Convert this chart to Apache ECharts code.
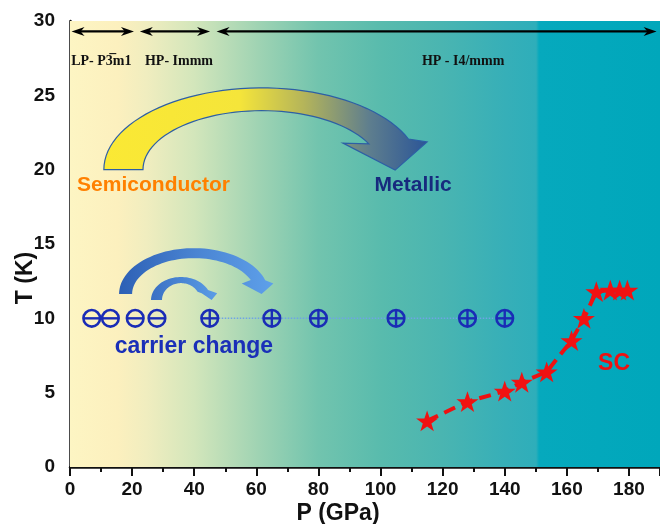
<!DOCTYPE html>
<html>
<head>
<meta charset="utf-8">
<script src="https://cdn.jsdelivr.net/npm/echarts@6/dist/echarts.min.js"></script>
<style>
  html, body { margin: 0; padding: 0; background: #fff; }
  #chart { width: 660px; height: 524px; }
</style>
</head>
<body>
<div id="chart"></div>
<script>
// Axis ticks: pressure (GPa) and temperature (K)
const pressureTicks = [0, 20, 40, 60, 80, 100, 120, 140, 160, 180];
const tempTicks = [0, 5, 10, 15, 20, 25, 30];
const pressureMax = 190;

// Hall carrier sign vs pressure, measured near 10 K (-1 = electrons, +1 = holes)
const carrierP = [7, 13, 21, 28, 45, 65, 80, 105, 128, 140];
const carrierT = [10, 10, 10, 10, 10, 10, 10, 10, 10, 10];
const carrierSign = [-1, -1, -1, -1, 1, 1, 1, 1, 1, 1];

// Superconducting transition temperature vs pressure
const scP = [115, 128, 140, 145.5, 153.5, 161.5, 165.5, 169.5, 174, 177, 179.5];
const scTc = [3.1, 4.4, 5.1, 5.7, 6.4, 8.5, 10.0, 11.8, 11.9, 11.9, 11.9];

// Structural phase ranges (GPa) and their names
const phaseRanges = [[0.5, 20.6], [22.5, 45.1], [47.2, 188.9]];
const phaseNames = ['LP- P3\u0305m1', 'HP- Immm', 'HP - I4/mmm'];
const phaseLabelP = [10.1, 35.1, 126.6];
const phaseArrowT = 29.3;
const phaseLabelT = 27.3;

// Curved "transition" arrows, described in data units (elliptical band + head)
const bandArrows = [
  { cx: 61.8, cy: 20, rxOut: 50.9, ryOut: 5.5, rxIn: 38.3, ryIn: 3.97, endOut: 22, endIn: 26,
    head: [[115, 21.86], [104.7, 19.97], [87.9, 21.79]],
    colors: [{ offset: 0, color: '#fbe934' }, { offset: 0.42, color: '#f5e53a' },
             { offset: 0.62, color: '#b4b45a' }, { offset: 0.82, color: '#5e7e8e' },
             { offset: 1, color: '#2b5597' }],
    stroke: '#2d5fa5' },
  { cx: 39.9, cy: 11.63, rxOut: 24.1, ryOut: 3.09, rxIn: 19.9, ryIn: 2.42, endOut: 17.7, endIn: 22.9,
    head: [[65.5, 12.35], [61.7, 11.63], [55.3, 12.35]],
    colors: [{ offset: 0, color: '#2d60b5' }, { offset: 0.5, color: '#4a84d2' }, { offset: 1, color: '#5ea0ea' }] },
  { cx: 35.75, cy: 11.23, rxOut: 9.66, ryOut: 1.55, rxIn: 6.12, ryIn: 1.14, endOut: 25.8, endIn: 29.3,
    head: [[47.4, 11.68], [45.6, 11.23], [42.4, 11.68]],
    colors: [{ offset: 0, color: '#3a70c4' }, { offset: 1, color: '#5b9de6' }] }
];

// Free-standing text annotations
const notes = [
  { text: 'Semiconductor', p: 26.9, t: 18.96, color: '#ff8000', size: 21 },
  { text: 'Metallic', p: 110.5, t: 18.96, color: '#172a7e', size: 21 },
  { text: 'carrier change', p: 39.9, t: 8.09, color: '#1a2fb8', size: 23 },
  { text: 'SC', p: 175.2, t: 6.97, color: '#ee1111', size: 23 }
];

const SANS = 'Arial, "Liberation Sans", Helvetica, sans-serif';
const SERIF = '"Times New Roman", "Liberation Serif", serif';
const STAR = 'path://M50,0 L61.8,35.1 L98.1,35.1 L68.8,56.8 L79.4,91.2 L50,70 L20.6,91.2 L31.2,56.8 L1.9,35.1 L38.2,35.1 Z';

function bandArrowShape(spec, api) {
  const pts = [];
  const N = 48;
  const toRad = Math.PI / 180;
  for (let i = 0; i <= N; i++) {
    const a = Math.PI - (Math.PI - spec.endOut * toRad) * i / N;
    pts.push(api.coord([spec.cx + spec.rxOut * Math.cos(a), spec.cy + spec.ryOut * Math.sin(a)]));
  }
  spec.head.forEach(h => pts.push(api.coord(h)));
  for (let i = N; i >= 0; i--) {
    const a = Math.PI - (Math.PI - spec.endIn * toRad) * i / N;
    pts.push(api.coord([spec.cx + spec.rxIn * Math.cos(a), spec.cy + spec.ryIn * Math.sin(a)]));
  }
  return {
    type: 'polygon',
    shape: { points: pts },
    style: {
      fill: { type: 'linear', x: 0, y: 0, x2: 1, y2: 0, colorStops: spec.colors },
      stroke: spec.stroke || null,
      lineWidth: spec.stroke ? 1.2 : 0
    }
  };
}

function doubleArrow(x1, x2, y) {
  const L = 13, H = 9;
  return {
    type: 'group',
    children: [
      { type: 'line', shape: { x1: x1 + 8, y1: y, x2: x2 - 8, y2: y }, style: { stroke: '#000', lineWidth: 2.2 } },
      { type: 'polygon', shape: { points: [[x1, y], [x1 + L, y - H / 2], [x1 + L * 0.7, y], [x1 + L, y + H / 2]] }, style: { fill: '#000' } },
      { type: 'polygon', shape: { points: [[x2, y], [x2 - L, y - H / 2], [x2 - L * 0.7, y], [x2 - L, y + H / 2]] }, style: { fill: '#000' } }
    ]
  };
}

const chart = echarts.init(document.getElementById('chart'), null, { renderer: 'canvas' });

const holeLine = carrierP.map((p, i) => [p, carrierT[i]]).filter((_, i) => carrierSign[i] > 0);

const option = {
  animation: false,
  backgroundColor: '#fff',
  grid: { left: 70, right: 0, top: 21, bottom: 57, containLabel: false, outerBoundsMode: 'none' },
  xAxis: [{
    type: 'value',
    min: pressureTicks[0],
    max: pressureMax,
    interval: pressureTicks[1] - pressureTicks[0],
    name: 'P (GPa)',
    nameLocation: 'middle',
    nameGap: 35,
    nameMoveOverlap: false,
    nameTextStyle: { fontFamily: SANS, fontWeight: 'bold', fontSize: 23, color: '#111', padding: [0, 54, 0, 0] },
    axisLine: { show: true, onZero: false, lineStyle: { color: '#111', width: 2.5 } },
    axisTick: { show: true, inside: false, length: 9, lineStyle: { color: '#111', width: 2 } },
    minorTick: { show: true, splitNumber: 2, length: 5, lineStyle: { color: '#111', width: 2 } },
    axisLabel: {
      margin: 13, fontFamily: SANS, fontWeight: 'bold', fontSize: 19, color: '#111',
      showMaxLabel: false,
      formatter: v => pressureTicks.includes(v) ? String(v) : ''
    },
    splitLine: { show: false }
  }, {
    type: 'value', position: 'top', min: 0, max: pressureMax,
    axisLine: { show: true, lineStyle: { color: '#111', width: 2 } },
    axisTick: { show: false }, axisLabel: { show: false }, splitLine: { show: false }
  }],
  yAxis: {
    type: 'value',
    min: tempTicks[0],
    max: tempTicks[tempTicks.length - 1],
    interval: tempTicks[1] - tempTicks[0],
    name: 'T (K)',
    nameLocation: 'middle',
    nameGap: 33,
    nameMoveOverlap: false,
    nameTextStyle: { fontFamily: SANS, fontWeight: 'bold', fontSize: 23, color: '#111', padding: [0, 68, 0, 0] },
    axisLine: { show: true, onZero: false, lineStyle: { color: '#111', width: 2.5 } },
    axisTick: { show: false },
    axisLabel: { margin: 15, fontFamily: SANS, fontWeight: 'bold', fontSize: 19, color: '#111' },
    splitLine: { show: false }
  },
  series: [
    {
      // background colour wash across the pressure range
      type: 'line', data: [], silent: true, z: 0,
      markArea: {
        silent: true,
        itemStyle: {
          color: {
            type: 'linear', x: 0, y: 0, x2: 1, y2: 0,
            colorStops: [
              { offset: 0, color: '#fdf5c3' },
              { offset: 0.08, color: '#fcf0be' },
              { offset: 0.13, color: '#f0edbf' },
              { offset: 0.21, color: '#d3e6bb' },
              { offset: 0.32, color: '#9fd3b3' },
              { offset: 0.42, color: '#72c4ae' },
              { offset: 0.53, color: '#58bbad' },
              { offset: 0.63, color: '#4ab5b1' },
              { offset: 0.74, color: '#36afb8' },
              { offset: 0.79, color: '#2eaeba' },
              { offset: 0.795, color: '#06a9bd' },
              { offset: 1, color: '#00a7bb' }
            ]
          }
        },
        data: [[{ xAxis: 0, yAxis: 0 }, { xAxis: pressureMax, yAxis: 30 }]]
      }
    },
    {
      // phase range arrows
      type: 'custom', z: 3, silent: true,
      data: phaseRanges.map(r => [r[0], phaseArrowT, r[1]]),
      renderItem: (params, api) => {
        const a = api.coord([api.value(0), api.value(1)]);
        const b = api.coord([api.value(2), api.value(1)]);
        return doubleArrow(a[0], b[0], a[1]);
      }
    },
    {
      // curved transition arrows
      type: 'custom', z: 3, silent: true,
      data: bandArrows.map(s => [s.cx, s.cy]),
      renderItem: (params, api) => bandArrowShape(bandArrows[params.dataIndex], api)
    },
    {
      // dotted guide through the hole-type points
      type: 'line', z: 4, silent: true, symbol: 'none',
      data: holeLine,
      lineStyle: { color: '#6fa3e6', width: 1.5, type: 'dotted' }
    },
    {
      // carrier sign markers
      type: 'custom', z: 5, silent: true,
      data: carrierP.map((p, i) => [p, carrierT[i], carrierSign[i]]),
      renderItem: (params, api) => {
        const c = api.coord([api.value(0), api.value(1)]);
        const r = 8.3;
        const col = '#1a2cb6';
        const children = [
          { type: 'circle', shape: { cx: c[0], cy: c[1], r }, style: { fill: 'none', stroke: col, lineWidth: 2.6 } },
          { type: 'line', shape: { x1: c[0] - r, y1: c[1], x2: c[0] + r, y2: c[1] }, style: { stroke: col, lineWidth: 2.4 } }
        ];
        if (api.value(2) > 0) {
          children.push({ type: 'line', shape: { x1: c[0], y1: c[1] - r, x2: c[0], y2: c[1] + r }, style: { stroke: col, lineWidth: 2.4 } });
        }
        return { type: 'group', children };
      }
    },
    {
      // superconducting Tc
      type: 'line', z: 6, silent: true,
      data: scP.map((p, i) => [p, scTc[i]]),
      symbol: STAR, symbolSize: 22, symbolKeepAspect: true,
      itemStyle: { color: '#f01212' },
      lineStyle: { color: '#ee1111', width: 4, type: [12, 7] }
    },
    {
      // phase names
      type: 'custom', z: 7, silent: true,
      data: phaseLabelP.map(p => [p, phaseLabelT]),
      renderItem: (params, api) => {
        const c = api.coord([api.value(0), api.value(1)]);
        return { type: 'text', x: c[0], y: c[1],
          style: { text: phaseNames[params.dataIndex], font: 'bold 14px ' + SERIF, fill: '#111', align: 'center', verticalAlign: 'middle' } };
      }
    },
    {
      // text annotations
      type: 'custom', z: 7, silent: true,
      data: notes.map(n => [n.p, n.t]),
      renderItem: (params, api) => {
        const n = notes[params.dataIndex];
        const c = api.coord([api.value(0), api.value(1)]);
        return { type: 'text', x: c[0], y: c[1],
          style: { text: n.text, font: 'bold ' + n.size + 'px ' + SANS, fill: n.color, align: 'center', verticalAlign: 'middle' } };
      }
    }
  ]
};

chart.setOption(option);
</script>
</body>
</html>
